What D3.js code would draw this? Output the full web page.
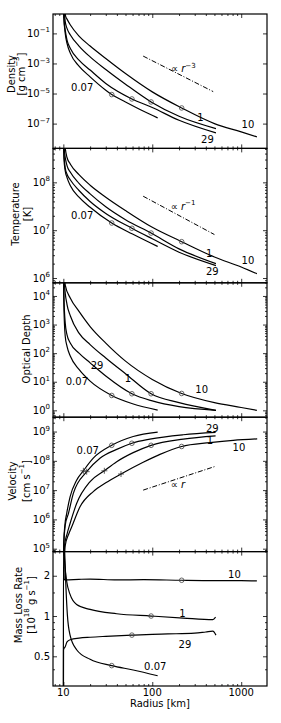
<!DOCTYPE html>
<html>
<head>
<meta charset="utf-8">
<script src="https://cdn.jsdelivr.net/npm/d3@7"></script>
<style>
  body { margin: 0; background: #fff; }
  svg text { font-family: "DejaVu Sans", sans-serif; fill: #000; }
</style>
</head>
<body>
<svg id="chart" width="281" height="723"></svg>
<script>
// models, in the order every series list below uses
const models = ['0.07', '1', '10', '29']
const circleRadius = [35, 97, 214, 59]
const crossRadius = [16.8, 28.9, 44.5, 18.3]
const radiusTicks = [10, 100, 1000]

// [radius km, log10(density / g cm^-3)]
const densityLog = [
  [[10.05, 1.0], [10.15, 0.0], [10.5, -1.0], [11, -1.67], [12, -2.33], [15, -3.18], [20, -3.89], [30, -4.78], [35, -5.07], [50, -5.56], [80, -6.18], [115, -6.62]],
  [[10.1, 1.0], [10.5, -0.22], [11, -0.67], [12, -1.11], [15, -1.84], [20, -2.56], [30, -3.4], [50, -4.38], [97, -5.56], [200, -6.51], [520, -7.33]],
  [[10.2, 1.0], [10.6, 0.15], [11, -0.05], [12, -0.44], [15, -1.18], [20, -1.84], [30, -2.67], [50, -3.67], [100, -4.89], [214, -5.96], [500, -7.0], [1000, -7.55], [1500, -7.88]],
  [[10.05, 1.0], [10.15, 0.0], [10.5, -0.78], [11, -1.44], [12, -2.0], [15, -2.78], [20, -3.44], [30, -4.33], [59, -5.36], [100, -5.93], [200, -6.78], [520, -7.62]],
]

// [radius km, log10(temperature / K)]
const temperatureLog = [
  [[10.05, 9.0], [10.15, 8.5], [10.5, 8.24], [11, 8.1], [12, 7.93], [15, 7.69], [20, 7.48], [35, 7.15], [60, 6.92], [115, 6.66]],
  [[10.1, 9.0], [10.2, 8.72], [11, 8.35], [12, 8.21], [15, 7.98], [20, 7.76], [30, 7.49], [50, 7.22], [97, 6.94], [200, 6.61], [520, 6.3]],
  [[10.2, 9.0], [10.5, 8.72], [11, 8.52], [12, 8.38], [15, 8.16], [20, 7.94], [30, 7.69], [50, 7.41], [100, 7.06], [214, 6.76], [500, 6.44], [1000, 6.23], [1500, 6.09]],
  [[10.05, 9.0], [10.1, 8.72], [10.5, 8.3], [11, 8.17], [12, 8.05], [15, 7.83], [20, 7.6], [30, 7.35], [59, 7.04], [100, 6.82], [200, 6.54], [520, 6.26]],
]

// [radius km, log10(optical depth)]
const opticalDepthLog = [
  [[10.02, 5.0], [10.1, 4.0], [10.3, 3.0], [10.5, 2.59], [11, 2.24], [12, 1.89], [15, 1.43], [20, 1.02], [35, 0.52], [60, 0.23], [115, 0.01]],
  [[10.1, 5.0], [10.3, 4.4], [11, 3.7], [12, 3.3], [15, 2.7], [20, 2.3], [30, 1.83], [50, 1.28], [97, 0.58], [200, 0.27], [520, 0.0]],
  [[10.3, 5.0], [10.5, 4.38], [12, 3.92], [15, 3.46], [20, 2.93], [30, 2.35], [50, 1.72], [100, 1.08], [214, 0.59], [500, 0.27], [1000, 0.1], [1500, 0.0]],
  [[10.05, 5.0], [10.15, 4.0], [10.5, 3.05], [11, 2.64], [12, 2.35], [15, 2.0], [20, 1.66], [30, 1.2], [59, 0.58], [100, 0.33], [200, 0.13], [520, 0.0]],
]

// [radius km, log10(velocity / cm s^-1)]
const velocityLog = [
  [[10.02, 4.5], [10.1, 5.2], [10.4, 5.8], [10.9, 6.2], [11.9, 6.77], [14.1, 7.34], [16.8, 7.66], [21.7, 8.09], [35, 8.53], [61, 8.83], [115, 8.98]],
  [[10.1, 4.5], [10.3, 5.1], [11, 5.5], [11.9, 5.86], [14.1, 6.54], [20, 7.29], [28.9, 7.66], [39.8, 7.97], [61, 8.28], [97, 8.53], [223, 8.74], [515, 8.85]],
  [[10.2, 4.5], [10.5, 5.1], [11.5, 5.5], [12.4, 5.74], [15.4, 6.43], [21.7, 6.95], [30, 7.25], [44.5, 7.55], [79, 7.95], [122, 8.22], [214, 8.49], [444, 8.62], [813, 8.7], [1513, 8.75]],
  [[10.05, 4.5], [10.15, 5.2], [10.5, 5.8], [11.4, 6.2], [12.95, 6.89], [18.3, 7.63], [25.8, 8.09], [39.8, 8.39], [59, 8.6], [94, 8.74], [223, 8.89], [515, 8.97]],
]

// [radius km, mass loss rate / 1e18 g s^-1]
const massLossRate = [
  [[10.1, 3.5], [10.35, 3.0], [10.7, 1.63], [11.1, 1.02], [11.9, 0.72], [14.1, 0.56], [20, 0.475], [35, 0.426], [61, 0.395], [115, 0.358]],
  [[10.05, 3.5], [10.4, 2.4], [10.9, 1.82], [11.9, 1.45], [14.1, 1.22], [20, 1.12], [39.8, 1.04], [97, 1.0], [223, 0.966], [480, 0.94], [515, 0.98]],
  [[10.0, 0.25], [10.03, 3.5], [10.25, 1.88], [10.5, 1.86], [15, 1.88], [20, 1.89], [40, 1.86], [80, 1.87], [214, 1.85], [500, 1.84], [1000, 1.84], [1500, 1.83]],
  [[10.02, 0.2], [10.05, 0.56], [10.5, 0.59], [11, 0.64], [12, 0.665], [15, 0.683], [20, 0.694], [30, 0.705], [59, 0.72], [100, 0.73], [150, 0.735], [300, 0.745], [400, 0.76], [480, 0.77], [520, 0.72]],
]

const densityTicks = [-7, -5, -3, -1]
const temperatureTicks = [6, 7, 8]
const opticalDepthTicks = [0, 1, 2, 3, 4]
const velocityTicks = [5, 6, 7, 8, 9]
const massLossTicks = [0.5, 1, 2]
const massLossMinor = [0.4, 0.6, 0.7, 0.8, 0.9, 1.5]

// power-law guides: [r start, r end, log10 value at start, exponent]
const densityGuide = [79, 484, -2.51, -3]
const temperatureGuide = [79, 500, 7.71, -1]
const velocityGuide = [79, 500, 7.0, 1]

// where each model name sits, [radius, value], same order as models
const densityNotes = [[16.3, -4.59], [348, -6.58], [1189, -7.08], [417, -8.05]]
const temperatureNotes = [[16.3, 7.3], [437, 6.51], [1189, 6.36], [474, 6.14]]
const opticalDepthNotes = [[14.2, 1.01], [53.3, 1.13], [359, 0.72], [23.9, 1.57]]
const velocityNotes = [[18.8, 8.34], [445, 8.69], [942, 8.45], [474, 9.11]]
const massLossNotes = [[108, 0.42], [218, 1.05], [840, 2.05], [233, 0.61]]

const svg = d3.select('#chart')
const plotLeft = 53
const plotRight = 267
const plotTop = 14
const plotBottom = 686
const width = plotRight - plotLeft
const panelH = (plotBottom - plotTop) / 5
const fs = 10

const x = d3.scaleLog().domain([7.65, 1950]).range([0, width])

const panels = [
  { series: densityLog, exp: true, domain: [-8.65, 0.29], ticks: densityTicks, minor: false,
    notes: densityNotes, guide: densityGuide, guideSup: '−3', guideAt: [162, -3.58],
    title: [[['Density']], [['[g cm'], ['−3', 1], [']']]], titleX: [10.5, 21], titleY: 74, markers: 'circle' },
  { series: temperatureLog, exp: true, domain: [5.9, 8.71], ticks: temperatureTicks, minor: true,
    notes: temperatureNotes, guide: temperatureGuide, guideSup: '−1', guideAt: [161, 7.43],
    title: [[['Temperature']], [['[K]']]], titleX: [14.5, 26.5], titleY: 214, markers: 'circle' },
  { series: opticalDepthLog, exp: true, domain: [-0.24, 4.46], ticks: opticalDepthTicks, minor: true,
    notes: opticalDepthNotes, guide: null,
    title: [[['Optical Depth']]], titleX: [26], titleY: 349, markers: 'circle' },
  { series: velocityLog, exp: true, domain: [4.9, 9.49], ticks: velocityTicks, minor: true,
    notes: velocityNotes, guide: velocityGuide, guideSup: '', guideAt: [161, 7.06],
    title: [[['Velocity']], [['[cm s'], ['−1', 1], [']']]], titleX: [11.5, 26], titleY: 481, markers: 'both' },
  { series: massLossRate, exp: false, domain: [0.3, 3.03], ticks: massLossTicks, minor: massLossMinor,
    notes: massLossNotes, guide: null,
    title: [[['Mass Loss Rate']], [['[10'], ['18', 1], [' g s'], ['−1', 1], [']']]], titleX: [18, 31], titleY: 605, markers: 'circle' },
]

function writePieces(text, pieces, size) {
  let up = false
  pieces.forEach(([t, sup]) => {
    const ts = text.append('tspan').text(t)
    if (sup && !up) { ts.attr('dy', -size * 0.42).attr('font-size', size * 0.7); up = true }
    else if (sup) ts.attr('font-size', size * 0.7)
    else if (up) { ts.attr('dy', size * 0.42); up = false }
  })
}

// value at radius r along a series, interpolated in log-log space
function valueAt(series, r, exp) {
  const lr = Math.log10(r)
  for (let i = 1; i < series.length; i++) {
    const a = series[i - 1], b = series[i]
    if (r >= a[0] && r <= b[0]) {
      const t = (lr - Math.log10(a[0])) / (Math.log10(b[0]) - Math.log10(a[0]))
      const va = exp ? a[1] : Math.log10(a[1])
      const vb = exp ? b[1] : Math.log10(b[1])
      return Math.pow(10, va + t * (vb - va))
    }
  }
  return null
}

panels.forEach((p, i) => {
  const y0 = plotTop + i * panelH
  const val = v => (p.exp ? Math.pow(10, v) : v)
  const y = d3.scaleLog()
    .domain(p.exp ? [Math.pow(10, p.domain[0]), Math.pow(10, p.domain[1])] : p.domain)
    .range([panelH, 0])

  const g = svg.append('g').attr('transform', `translate(${plotLeft}, ${y0})`)

  svg.append('clipPath').attr('id', `clip${i}`)
    .append('rect').attr('width', width).attr('height', panelH)

  // major and minor ticks on all four sides, pointing in
  const majors = p.exp ? p.ticks.map(e => Math.pow(10, e)) : p.ticks
  let minors = []
  if (p.minor === true) {
    for (let k = Math.floor(p.domain[0]); k <= Math.ceil(p.domain[1]); k++) {
      for (let m = 2; m < 10; m++) {
        const v = m * Math.pow(10, k)
        if (v > y.domain()[0] && v < y.domain()[1]) minors.push(v)
      }
    }
  } else if (p.minor) minors = p.minor

  const xMinor = []
  for (let k = 0; k <= 3; k++) {
    for (let m = 2; m < 10; m++) {
      const v = m * Math.pow(10, k)
      if (v > x.domain()[0] && v < x.domain()[1]) xMinor.push(v)
    }
  }

  const tickSets = [
    [d3.axisLeft(y).tickValues(majors).tickSize(-4), 'translate(0,0)'],
    [d3.axisLeft(y).tickValues(minors).tickSize(-2), 'translate(0,0)'],
    [d3.axisRight(y).tickValues(majors).tickSize(-4), `translate(${width},0)`],
    [d3.axisRight(y).tickValues(minors).tickSize(-2), `translate(${width},0)`],
    [d3.axisTop(x).tickValues(radiusTicks).tickSize(-4), 'translate(0,0)'],
    [d3.axisTop(x).tickValues(xMinor).tickSize(-2), 'translate(0,0)'],
    [d3.axisBottom(x).tickValues(radiusTicks).tickSize(-4), `translate(0,${panelH})`],
    [d3.axisBottom(x).tickValues(xMinor).tickSize(-2), `translate(0,${panelH})`],
  ]
  tickSets.forEach(([ax, tr]) => {
    g.append('g').attr('transform', tr)
      .call(ax.tickFormat(''))
      .call(a => a.select('.domain').remove())
      .call(a => a.selectAll('line').attr('stroke', '#000').attr('stroke-width', 0.8))
  })

  // y tick labels
  majors.forEach((v, j) => {
    const t = g.append('text')
      .attr('x', -3)
      .attr('y', y(v) + 3.6)
      .attr('text-anchor', 'end')
      .attr('font-size', fs)
    if (p.exp) {
      t.append('tspan').text('10')
      const e = p.ticks[j]
      t.append('tspan').attr('dy', -4.5).attr('font-size', 7).text(e < 0 ? '−' + -e : '' + e)
    } else {
      t.text(v)
    }
  })

  const clip = g.append('g').attr('clip-path', `url(#clip${i})`)

  // power-law guide
  if (p.guide) {
    const [r0, r1, v0, slope] = p.guide
    const pts = [r0, r1].map(r => [r, v0 + slope * Math.log10(r / r0)])
    clip.append('path')
      .attr('d', d3.line().x(d => x(d[0])).y(d => y(val(d[1])))(pts))
      .attr('fill', 'none')
      .attr('stroke', '#000')
      .attr('stroke-width', 1)
      .attr('stroke-dasharray', '5,1.8,1,1.8')
    const gt = g.append('text')
      .attr('x', x(p.guideAt[0]))
      .attr('y', y(val(p.guideAt[1])))
      .attr('font-size', fs)
    gt.append('tspan').text('∝ ')
    gt.append('tspan').attr('font-style', 'italic').text('r')
    if (p.guideSup) gt.append('tspan').attr('dy', -4.2).attr('font-size', 7).text(p.guideSup)
  }

  // model curves
  const line = d3.line()
    .x(d => x(d[0]))
    .y(d => y(val(d[1])))
    .curve(d3.curveMonotoneX)

  p.series.forEach(s => {
    clip.append('path')
      .attr('d', line(s))
      .attr('fill', 'none')
      .attr('stroke', '#000')
      .attr('stroke-width', 1.2)
  })

  // markers
  p.series.forEach((s, m) => {
    const rc = circleRadius[m]
    const vc = valueAt(s, rc, p.exp)
    clip.append('circle')
      .attr('cx', x(rc))
      .attr('cy', y(vc))
      .attr('r', 2.3)
      .attr('fill', 'none')
      .attr('stroke', '#444')
      .attr('stroke-width', 0.8)
    if (p.markers === 'both') {
      const rx = crossRadius[m]
      const cx = x(rx), cy = y(valueAt(s, rx, p.exp))
      clip.append('path')
        .attr('d', `M${cx - 3},${cy}H${cx + 3}M${cx},${cy - 3}V${cy + 3}`)
        .attr('stroke', '#333')
        .attr('stroke-width', 0.8)
    }
  })

  // model names
  p.notes.forEach((n, m) => {
    g.append('text')
      .attr('x', x(n[0]))
      .attr('y', y(val(n[1])))
      .attr('text-anchor', 'middle')
      .attr('dominant-baseline', 'central')
      .attr('font-size', fs)
      .text(models[m])
  })

  // frame
  g.append('rect')
    .attr('width', width)
    .attr('height', panelH)
    .attr('fill', 'none')
    .attr('stroke', '#000')
    .attr('stroke-width', 1.2)

  // axis title
  p.title.forEach((pieces, k) => {
    const t = svg.append('text')
      .attr('transform', `translate(${p.titleX[k]}, ${p.titleY}) rotate(-90)`)
      .attr('text-anchor', 'middle')
      .attr('dominant-baseline', 'central')
      .attr('font-size', fs)
    writePieces(t, pieces, fs)
  })

  // x labels on the bottom panel only
  if (i === panels.length - 1) {
    radiusTicks.forEach(r => {
      g.append('text')
        .attr('x', x(r))
        .attr('y', panelH + 10)
        .attr('text-anchor', 'middle')
        .attr('font-size', fs)
        .text(r)
    })
    g.append('text')
      .attr('x', width / 2)
      .attr('y', panelH + 21)
      .attr('text-anchor', 'middle')
      .attr('font-size', fs)
      .text('Radius [km]')
  }
})
</script>
</body>
</html>
